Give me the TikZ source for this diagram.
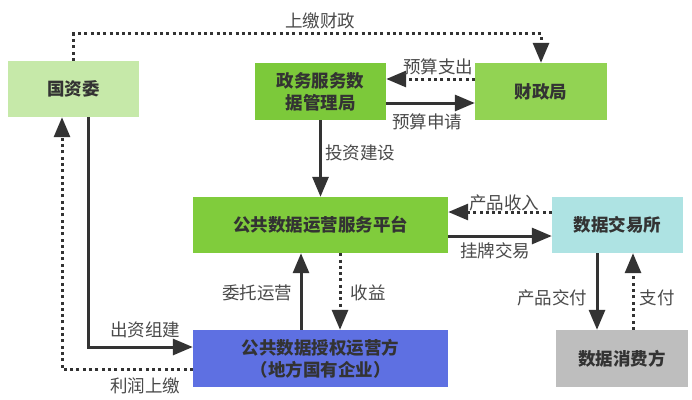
\documentclass[tikz,border=0pt]{standalone}
\usepackage{fontspec}
\setmainfont{Noto Sans CJK SC}
\usetikzlibrary{arrows.meta,calc}
\definecolor{gzwcol}{HTML}{C6E9A9}
\definecolor{zwcol}{HTML}{7CC93A}
\definecolor{czjcol}{HTML}{92D353}
\definecolor{ptcol}{HTML}{80CC3C}
\definecolor{jyscol}{HTML}{AEE3E3}
\definecolor{yyfcol}{HTML}{5E70E2}
\definecolor{xfzcol}{HTML}{BEBEBE}
\definecolor{linecol}{HTML}{333333}
\definecolor{labcol}{HTML}{4A4A4A}
\begin{document}
\begin{tikzpicture}[x=1pt,y=-1pt,
  box/.style={minimum height=56pt,inner sep=0pt,align=center,font=\fontsize{17.5}{22}\selectfont\bfseries,text=black!80},
  solidarrow/.style={draw=linecol,line width=3pt,-{Triangle[length=20pt,width=16pt]}},
  dotarrow/.style={draw=linecol,line width=3pt,dash pattern=on 3pt off 3.3pt,-{Triangle[length=20pt,width=16pt]}},
  lab/.style={font=\fontsize{17.5}{20}\selectfont,text=labcol,inner sep=1pt}]
\useasboundingbox (0,0) rectangle (692,399);
\fill[white] (0,0) rectangle (692,399);
\node[box,fill=gzwcol,minimum width=131pt] (gzw) at (73.5,89) {国资委};
\node[box,fill=zwcol,minimum width=131pt,minimum height=57pt] (zw) at (320.5,91.5) {政务服务数\\据管理局};
\node[box,fill=czjcol,minimum width=132pt,minimum height=57pt] (czj) at (541,91.5) {财政局};
\node[box,fill=ptcol,minimum width=255pt] (pt) at (320.5,225) {公共数据运营服务平台};
\node[box,fill=jyscol,minimum width=131pt] (jys) at (617.5,225) {数据交易所};
\node[box,fill=yyfcol,minimum width=255pt,minimum height=57pt] (yyf) at (320.5,358.5) {公共数据授权运营方\\（地方国有企业）};
\node[box,fill=xfzcol,minimum width=132pt,minimum height=57pt] (xfz) at (622,358.5) {数据消费方};
% connectors
\draw[dotarrow] (gzw.north) -- ++(0,-27) coordinate (tl) -| (czj.north);
\node[lab] (l1) at (320,21) {上缴财政};
\draw[dotarrow] ($(czj.west)+(0,-12.5)$) -- ($(zw.east)+(0,-12.5)$);
\node[lab] (l2) at (438,67) {预算支出};
\draw[solidarrow] ($(zw.east)+(0,11.5)$) -- ($(czj.west)+(0,11.5)$);
\node[lab] (l3) at (427,122) {预算申请};
\draw[solidarrow] (zw.south) -- (pt.north);
\node[lab] (l4) at (360,153) {投资建设};
\draw[solidarrow] ($(yyf.north)+(-19.5,0)$) -- ($(pt.south)+(-19.5,0)$);
\node[lab] (l5) at (257,293) {委托运营};
\draw[dotarrow] ($(pt.south)+(19.5,0)$) -- ($(yyf.north)+(19.5,0)$);
\node[lab] (l6) at (368,293) {收益};
\draw[dotarrow] ($(jys.west)+(0,-13)$) -- ($(pt.east)+(0,-13)$);
\node[lab] (l7) at (504,203) {产品收入};
\draw[solidarrow] ($(pt.east)+(0,11)$) -- ($(jys.west)+(0,11)$);
\node[lab] (l8) at (495,251) {挂牌交易};
\coordinate (jd) at ($(jys.south)+(-20.5,0)$);
\draw[solidarrow] (jd) -- (jd |- xfz.north);
\node[lab] (l9) at (552,298) {产品交付};
\coordinate (zf) at ($(jys.south)+(15.5,0)$);
\draw[dotarrow] (zf |- xfz.north) -- (zf);
\node[lab] (l10) at (657,298) {支付};
\draw[solidarrow] ($(gzw.south)+(14.5,0)$) |- ($(yyf.west)+(0,-11.5)$);
\node[lab] (l11) at (145,330) {出资组建};
\draw[dotarrow] ($(yyf.west)+(0,10.5)$) -| ($(gzw.south)+(-11.5,0)$);
\node[lab] (l12) at (145,386) {利润上缴};
\end{tikzpicture}
\end{document}
